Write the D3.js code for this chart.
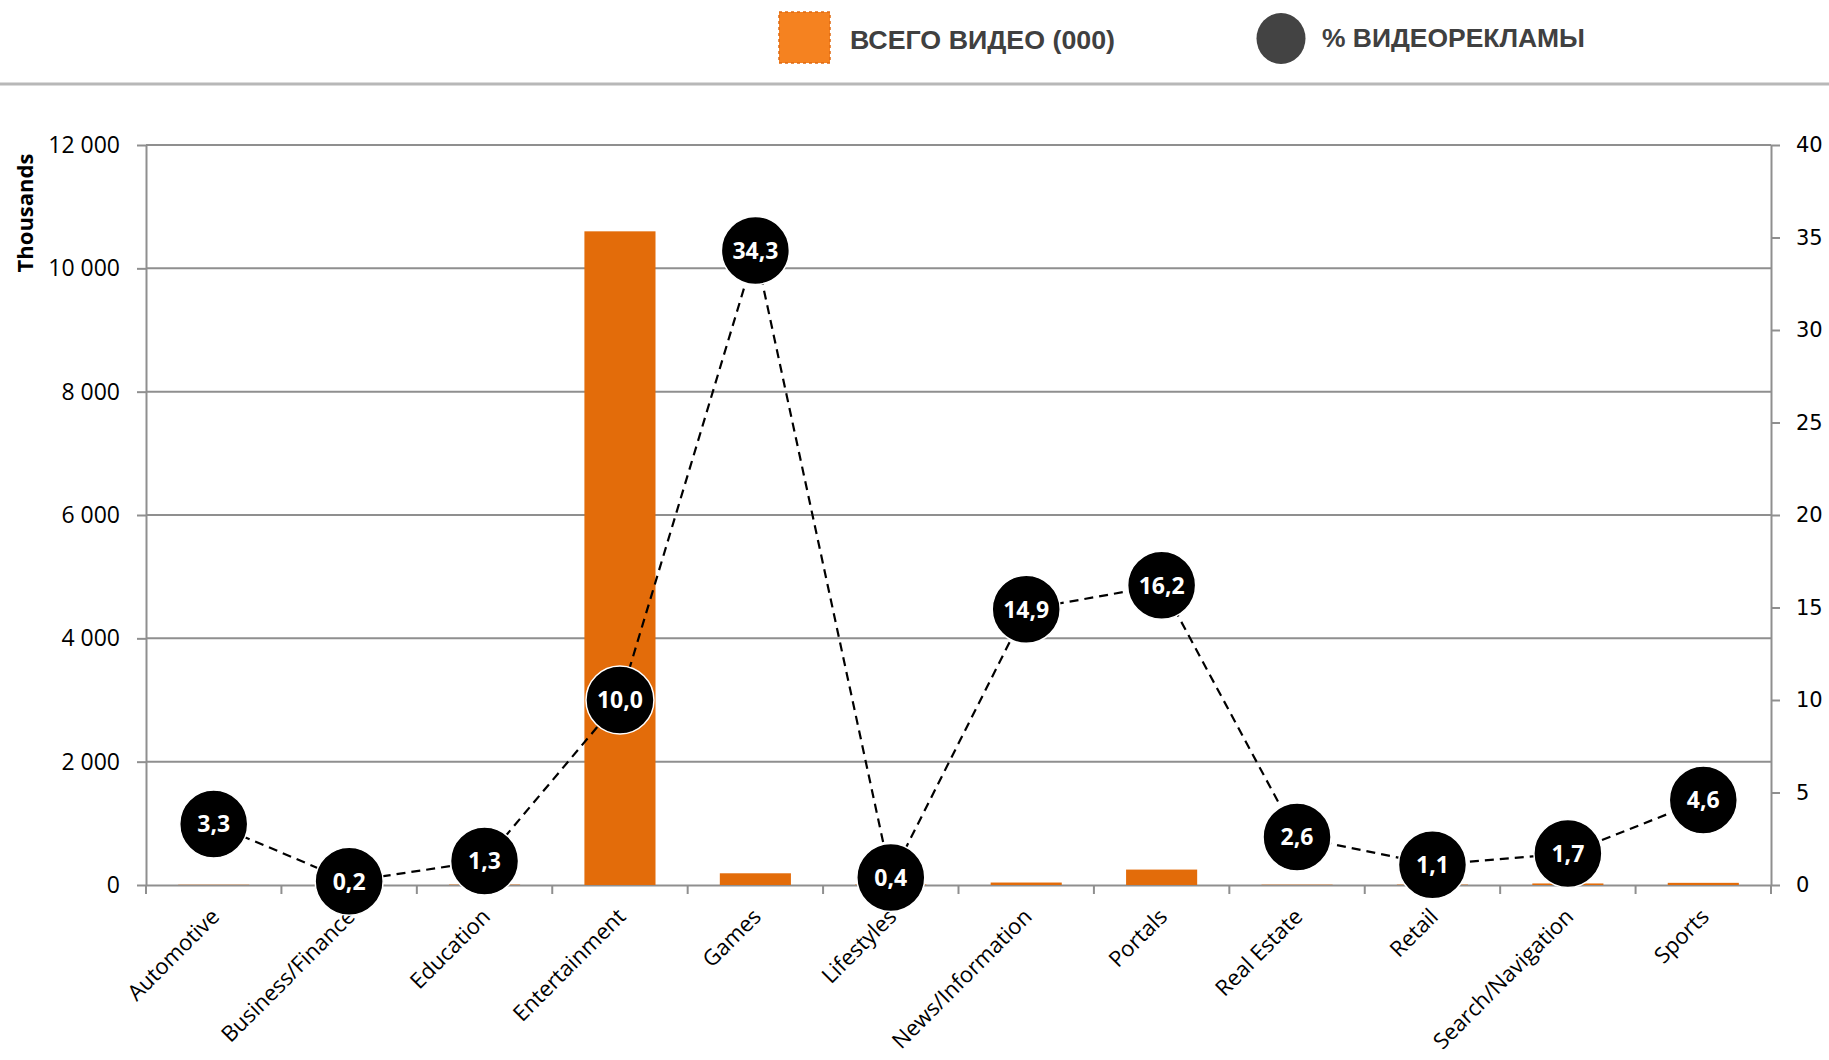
<!DOCTYPE html>
<html>
<head>
<meta charset="utf-8">
<script src="https://cdn.jsdelivr.net/npm/d3@7"></script>
<style>
  html, body { margin: 0; padding: 0; background: #fff; }
  svg { display: block; }
</style>
</head>
<body>
<svg id="chart" width="1829" height="1060"></svg>
<script>
// Site categories
const categories = ["Automotive", "Business/Finance", "Education", "Entertainment", "Games",
  "Lifestyles", "News/Information", "Portals", "Real Estate", "Retail",
  "Search/Navigation", "Sports"];
// Total video views, thousands
const videoTotals = [4, 2, 6, 10600, 190, 8, 40, 250, 5, 6, 25, 35];
// Share of video advertising, %
const adShare = [3.3, 0.2, 1.3, 10.0, 34.3, 0.4, 14.9, 16.2, 2.6, 1.1, 1.7, 4.6];
// Axis ticks
const leftTicks = [0, 2000, 4000, 6000, 8000, 10000, 12000];
const rightTicks = [0, 5, 10, 15, 20, 25, 30, 35, 40];
// Legend labels
const legendLabels = ["ВСЕГО ВИДЕО (000)", "% ВИДЕОРЕКЛАМЫ"];

const ru = d3.formatLocale({ decimal: ",", thousands: " ", grouping: [3], currency: ["", ""] });
const fmtThousands = ru.format(",d");
const fmtPct = ru.format(".1f");

const svg = d3.select("#chart");
const plot = { left: 146, right: 1771, top: 145, bottom: 885 };
const gridColor = "#8f8f8f";
const barColor = "#e36c0a";

const x = d3.scaleBand().domain(categories)
  .range([plot.left, plot.right]).paddingInner(0.475).paddingOuter(0.2375);
const yL = d3.scaleLinear().domain([0, 12000]).range([plot.bottom, plot.top]);
const yR = d3.scaleLinear().domain([0, 40]).range([plot.bottom, plot.top]);
const cx = c => x(c) + x.bandwidth() / 2;

// Legend
const legend = svg.append("g");
legend.append("rect").attr("x", 779).attr("y", 12).attr("width", 51).attr("height", 51)
  .attr("fill", "#f58220").attr("stroke", "#e06a10").attr("stroke-width", 1.5)
  .attr("stroke-dasharray", "3,3");
legend.append("text").attr("x", 850).attr("y", 49).text(legendLabels[0])
  .attr("font-family", "Liberation Sans, Arial, sans-serif").attr("font-weight", "bold")
  .attr("font-size", 25).attr("fill", "#404040")
  .attr("textLength", 265).attr("lengthAdjust", "spacingAndGlyphs");
legend.append("ellipse").attr("cx", 1281).attr("cy", 38.5).attr("rx", 24.5).attr("ry", 25.5)
  .attr("fill", "#434343");
legend.append("text").attr("x", 1322).attr("y", 47).text(legendLabels[1])
  .attr("font-family", "Liberation Sans, Arial, sans-serif").attr("font-weight", "bold")
  .attr("font-size", 25).attr("fill", "#404040")
  .attr("textLength", 263).attr("lengthAdjust", "spacingAndGlyphs");
svg.append("line").attr("x1", 0).attr("x2", 1829).attr("y1", 84).attr("y2", 84)
  .attr("stroke", "#b8b8b8").attr("stroke-width", 3);

// Horizontal gridlines from the left axis
svg.append("g").selectAll("line").data(leftTicks.filter(t => t > 0)).join("line")
  .attr("x1", plot.left).attr("x2", plot.right)
  .attr("y1", d => yL(d)).attr("y2", d => yL(d))
  .attr("stroke", gridColor).attr("stroke-width", 2);

// Left axis
const leftAxis = svg.append("g").attr("transform", `translate(${plot.left},0)`)
  .call(d3.axisLeft(yL).tickValues(leftTicks).tickFormat(fmtThousands).tickSizeInner(9).tickSizeOuter(0).tickPadding(17));
// Right axis
const rightAxis = svg.append("g").attr("transform", `translate(${plot.right},0)`)
  .call(d3.axisRight(yR).tickValues(rightTicks).tickSizeInner(9).tickSizeOuter(0).tickPadding(16));
// Category axis with ticks at band boundaries
const bottomAxis = svg.append("g").attr("transform", `translate(0,${plot.bottom})`)
  .call(d3.axisBottom(x).tickSize(0).tickPadding(0));
bottomAxis.selectAll(".tick text").remove();
const step = x.step();
bottomAxis.append("g").selectAll("line").data(d3.range(categories.length + 1)).join("line")
  .attr("x1", i => plot.left + i * step).attr("x2", i => plot.left + i * step)
  .attr("y1", 0).attr("y2", 9).attr("stroke", gridColor).attr("stroke-width", 2);

[leftAxis, rightAxis, bottomAxis].forEach(g => {
  g.selectAll(".domain").attr("stroke", gridColor).attr("stroke-width", 2);
  g.selectAll(".tick line").attr("stroke", gridColor).attr("stroke-width", 2);
});
leftAxis.selectAll("text").attr("font-family", "Open Sans, sans-serif").attr("font-size", 23).attr("fill", "#000");
rightAxis.selectAll("text").attr("font-family", "DejaVu Sans, sans-serif").attr("font-size", 21).attr("fill", "#000");

// Rotated category labels
svg.append("g").selectAll("text").data(categories).join("text")
  .attr("transform", c => `translate(${cx(c) + 7},${plot.bottom + 33}) rotate(-45)`)
  .attr("text-anchor", "end")
  .attr("font-family", "Open Sans, sans-serif").attr("font-size", 22).attr("fill", "#000")
  .text(c => c);

// Left axis title
svg.append("text").attr("transform", "translate(33,213) rotate(-90)")
  .attr("text-anchor", "middle").attr("font-family", "Open Sans, sans-serif")
  .attr("font-weight", "bold").attr("font-size", 22).attr("fill", "#000").text("Thousands");

// Bars
svg.append("g").selectAll("rect").data(categories).join("rect")
  .attr("x", c => x(c)).attr("width", x.bandwidth())
  .attr("y", (c, i) => yL(videoTotals[i]))
  .attr("height", (c, i) => plot.bottom - yL(videoTotals[i]))
  .attr("fill", barColor);

// Dashed share line
const line = d3.line().x(d => cx(d.c)).y(d => yR(d.v));
const pts = categories.map((c, i) => ({ c, v: adShare[i] }));
svg.append("path").datum(pts).attr("d", line)
  .attr("fill", "none").attr("stroke", "#000").attr("stroke-width", 2.2)
  .attr("stroke-dasharray", "9,6");

// Value bubbles
const bubbles = svg.append("g").selectAll("g").data(pts).join("g")
  .attr("transform", d => `translate(${cx(d.c)},${yR(d.v)})`);
bubbles.append("circle").attr("r", 34).attr("fill", "#000")
  .attr("stroke", "#fff").attr("stroke-width", 1.5);
bubbles.append("text").attr("text-anchor", "middle").attr("dy", "0.36em")
  .attr("font-family", "Open Sans, sans-serif").attr("font-weight", "bold")
  .attr("font-size", 23).attr("fill", "#fff").text(d => fmtPct(d.v));
</script>
</body>
</html>
